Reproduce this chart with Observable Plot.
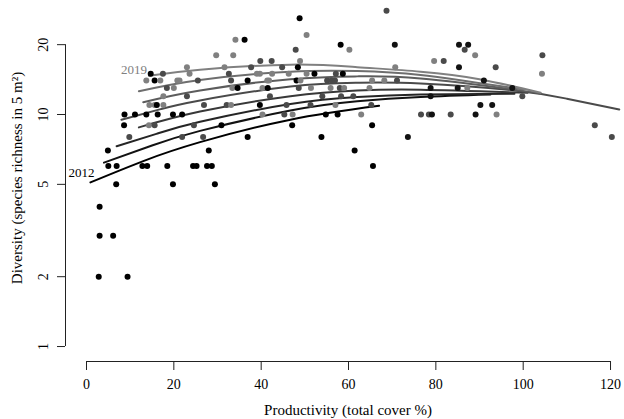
<!DOCTYPE html>
<html><head><meta charset="utf-8">
<script src="https://cdn.jsdelivr.net/npm/d3@7"></script>
<script src="https://cdn.jsdelivr.net/npm/@observablehq/plot@0.6"></script>
<style>html,body{margin:0;padding:0;background:#fff} svg{display:block}</style>
</head><body><div id="chart"></div>
<script>
// ---- data ----
const years = [2012, 2013, 2014, 2015, 2016, 2017, 2018, 2019];
const yearColors = ["#000000", "#121212", "#252525", "#383838", "#4a4a4a", "#5c5c5c", "#6e6e6e", "#808080"];

const productivity = [
  2.8,9.4,3.0,6.1,3.0,6.8,19.8,29.4,4.9,5.0,
  6.9,8.6,8.7,9.8,11.1,12.8,13.9,13.7,13.7,14.3,
  14.4,14.7,15.6,15.6,15.6,16.1,16.3,16.9,17.5,17.6,
  17.6,18.4,18.5,19.8,20.0,20.8,21.3,21.9,21.9,23.0,
  23.0,23.6,24.6,24.4,25.2,25.5,26.7,26.9,28.0,27.6,
  28.7,29.7,30.9,31.6,32.1,33.1,32.6,33.1,33.4,34.6,
  33.6,34.1,36.2,36.9,36.9,37.7,39.0,39.7,39.7,39.8,
  42.4,40.3,40.3,41.4,41.8,41.5,42.0,42.5,44.8,45.3,
  45.8,46.3,47.1,47.2,47.9,48.1,48.4,48.6,48.8,48.9,
  49.0,50.4,50.4,51.3,51.4,52.2,53.8,54.0,54.8,55.1,
  55.9,56.1,56.9,57.0,57.1,57.5,58.0,58.2,58.3,58.7,
  59.0,60.2,61.1,61.4,62.9,64.8,65.2,65.4,65.4,65.6,
  68.2,68.7,70.6,70.7,71.1,73.6,76.6,78.4,79.1,78.8,
  78.8,79.6,81.8,83.4,85.0,85.3,85.3,86.6,87.2,87.4,
  89.0,89.1,90.2,91.0,92.9,93.7,93.9,97.5,99.8,104.4,
  104.3,116.4,120.3
];
const diversity = [
  2,2,3,3,4,5,5,5,7,6,
  6,9,10,8,10,6,6,10,14,9,
  11,15,9,11,14,11,10,14,15,11,
  12,13,6,10,13,14,14,10,8,12,
  16,15,9,6,6,14,8,11,7,6,
  6,18,9,16,11,11,15,14,13,13,
  18,21,21,14,8,16,15,15,11,17,
  17,13,10,14,14,13,12,15,16,10,
  11,15,9,10,19,14,16,13,26,17,
  14,22,15,11,13,15,8,12,10,14,
  13,14,14,11,15,10,13,20,12,15,
  13,19,12,7,10,13,11,14,9,6,
  14,28,20,16,14,8,10,10,10,13,
  12,17,17,10,13,20,16,19,13,20,
  18,10,11,14,11,16,10,13,12,18,
  15,9,8
];
const pointYear = [
  2012,2012,2012,2012,2012,2012,2012,2012,2012,2012,
  2012,2012,2012,2016,2012,2012,2012,2012,2019,2019,
  2019,2012,2016,2019,2012,2012,2012,2019,2016,2019,
  2019,2016,2012,2012,2019,2019,2019,2012,2016,2016,
  2019,2019,2016,2012,2012,2016,2016,2016,2012,2012,
  2012,2019,2012,2019,2016,2019,2016,2016,2019,2012,
  2019,2019,2012,2012,2012,2016,2019,2019,2012,2016,
  2016,2019,2019,2019,2019,2012,2016,2019,2016,2016,
  2016,2019,2012,2019,2016,2012,2012,2016,2012,2019,
  2019,2019,2019,2016,2019,2012,2012,2016,2012,2016,
  2019,2016,2016,2019,2016,2012,2016,2012,2016,2012,
  2019,2019,2016,2012,2019,2019,2016,2019,2012,2012,
  2019,2016,2013,2019,2016,2013,2016,2016,2013,2013,
  2013,2019,2016,2016,2013,2013,2013,2016,2019,2013,
  2019,2013,2013,2013,2013,2016,2019,2013,2016,2016,
  2019,2016,2016
];

// fitted curves as [productivity, diversity]
const fit2012 = [[0.9,5.1],[13,6.3],[26,7.6],[46.7,9.5],[67,10.9]];
const fit2013 = [[4,6.2],[15,7.35],[26,8.5],[46.7,10.4],[62,11.4],[76.5,11.9],[92.5,12.2]];
const fit2014 = [[6.9,7.3],[16,8.25],[26,9.3],[46.7,11.1],[62,11.9],[76.5,12.2],[98,12.3]];
const fit2015 = [[12,8.8],[26,10.3],[46.7,12.0],[62,12.7],[76.5,12.8],[101,12.4]];
const fit2016 = [[8,9.5],[17,10.55],[26,11.5],[46.7,13.2],[62,13.7],[76.5,13.6],[98,12.7],[110,11.7],[122,10.5]];
const fit2017 = [[13,11.3],[26,12.7],[46.7,14.2],[62,14.6],[76.5,14.3],[98,12.8],[104,12.3]];
const fit2018 = [[12,12.6],[26,14.1],[46.7,15.3],[62,15.4],[76.5,14.8],[100,12.8]];
const fit2019 = [[14.3,14.7],[26,15.6],[46.7,16.4],[62,16.0],[76.5,15.3],[90,14.2],[104,12.4]];

const xTicks = [0, 20, 40, 60, 80, 100, 120];
const yTicks = [1, 2, 5, 10, 20];
const xTitle = "Productivity (total cover %)";
const yTitle = "Diversity (species richness in 5 m²)";

// ---- build ----
const points = productivity.map((x, i) => ({x, y: diversity[i], year: pointYear[i]}));
const fits = {2012: fit2012, 2013: fit2013, 2014: fit2014, 2015: fit2015,
              2016: fit2016, 2017: fit2017, 2018: fit2018, 2019: fit2019};
const lines = years.flatMap(yr => fits[yr].map(([x, y]) => ({x, y, year: yr})));
const firstOf = yr => [{x: fits[yr][0][0], y: fits[yr][0][1], year: yr, label: String(yr)}];

const font = "'Liberation Serif', 'Times New Roman', Times, serif";
const xDomain = [-4.81, 120.91];
const yDomain = [0.862, 31.0];

const chart = Plot.plot({
  width: 624, height: 419,
  marginLeft: 65, marginRight: 10, marginTop: 0, marginBottom: 58,
  style: {fontFamily: font, fontSize: "14px", background: "#fff", color: "#000"},
  x: {domain: xDomain},
  y: {type: "log", domain: yDomain},
  color: {type: "ordinal", domain: years, range: yearColors},
  marks: [
    Plot.ruleX([xDomain[0]], {y1: yTicks[0], y2: yTicks[yTicks.length - 1], stroke: "#222"}),
    Plot.ruleY([yDomain[0]], {x1: xTicks[0], x2: xTicks[xTicks.length - 1], stroke: "#222"}),
    Plot.axisX({ticks: xTicks, tickSize: 9, tickPadding: 9, label: null, fontSize: 14, stroke: "#222"}),
    Plot.axisY({ticks: yTicks, tickSize: 8, tickFormat: () => "", label: null, stroke: "#222"}),
    Plot.text(yTicks, {y: d => d, text: d => String(d), frameAnchor: "left", dx: -22, rotate: -90,
                       textAnchor: "middle", lineAnchor: "middle", fontSize: 14, fill: "#000"}),
    Plot.text([xTitle], {frameAnchor: "bottom", dy: 49, dx: 8, textAnchor: "middle", lineAnchor: "middle",
                         fontSize: 15, fill: "#000"}),
    Plot.text([yTitle], {frameAnchor: "left", dx: -48, dy: -3, rotate: -90, textAnchor: "middle",
                         lineAnchor: "middle", fontSize: 15, fill: "#000"}),
    Plot.line(lines, {x: "x", y: "y", z: "year", stroke: "year", strokeWidth: 2, curve: "natural"}),
    Plot.dot(points, {x: "x", y: "y", fill: "year", r: 3}),
    Plot.text(firstOf(2019), {x: "x", y: "y", text: "label", fill: "year", textAnchor: "end", dx: -2, dy: -6, fontSize: 13}),
    Plot.text(firstOf(2012), {x: "x", y: "y", text: "label", fill: "year", textAnchor: "end", dx: 4, dy: -10, fontSize: 13})
  ]
});
document.getElementById("chart").appendChild(chart);
</script>
</body></html>
